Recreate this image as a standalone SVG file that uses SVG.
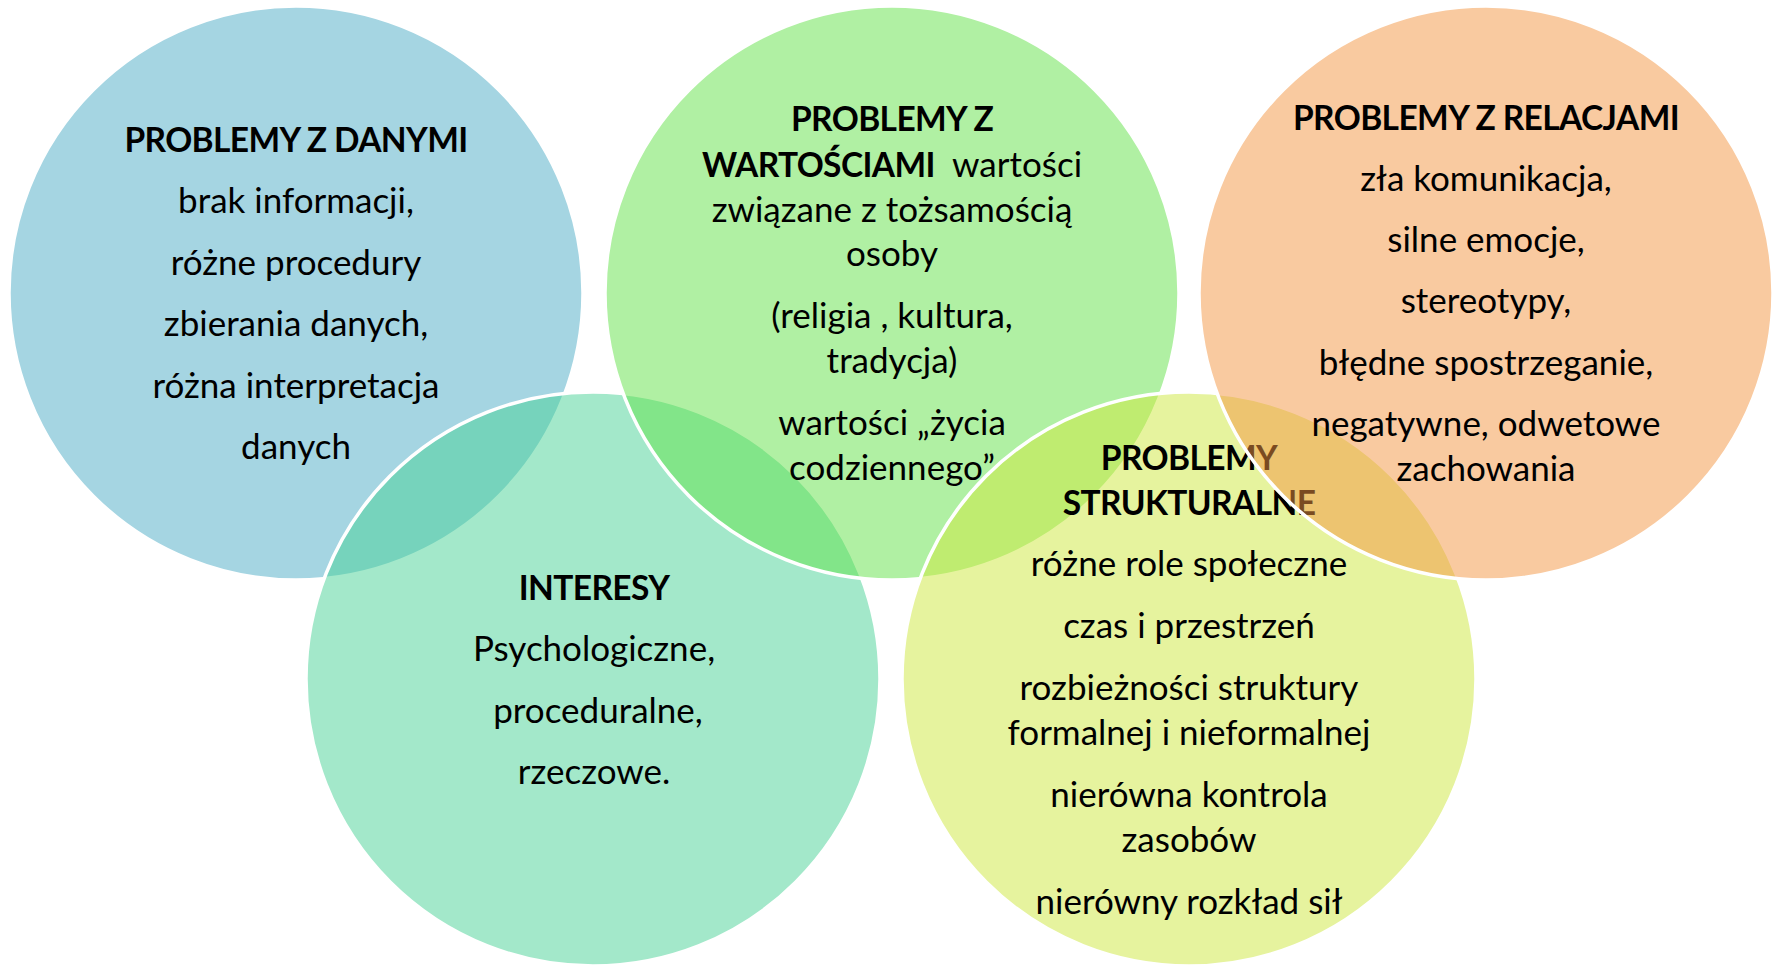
<svg xmlns="http://www.w3.org/2000/svg" width="1781" height="965" viewBox="0 0 1781 965">
<style>
.c { fill-opacity: 0.5; stroke: #ffffff; stroke-width: 3.5; }
text { font-family: Lato, "Liberation Sans", sans-serif; font-size: 35px; text-anchor: middle; fill: #000000; }
.b { font-weight: bold; font-size: 33.5px; letter-spacing: -0.6px; }
</style>
<rect x="0" y="0" width="1781" height="965" fill="#ffffff"/>
<g id="connectors"/>
<g id="node-dane">
  <circle class="c" cx="296" cy="293" r="287" fill="#4BABC5"/>
  <text x="296" y="151.5" class="b">PROBLEMY Z DANYMI</text>
  <text x="296" y="213">brak informacji,</text>
  <text x="296" y="274.5">różne procedury</text>
  <text x="296" y="336">zbierania danych,</text>
  <text x="296" y="397.5">różna interpretacja</text>
  <text x="296" y="459">danych</text>
</g>
<g id="node-interesy">
  <circle class="c" cx="593" cy="679" r="287" fill="#47D195"/>
  <text x="594" y="599.5" class="b">INTERESY</text>
  <text x="594" y="661">Psychologiczne,</text>
  <text x="598" y="722.5">proceduralne,</text>
  <text x="594" y="784">rzeczowe.</text>
</g>
<g id="node-wartosci">
  <circle class="c" cx="892" cy="293" r="287" fill="#61E147"/>
  <text x="892" y="131" class="b">PROBLEMY Z</text>
  <text x="892" y="176.5" xml:space="preserve"><tspan class="b">WARTOŚCIAMI</tspan>  wartości</text>
  <text x="892" y="221.5">związane z tożsamością</text>
  <text x="892" y="266">osoby</text>
  <text x="892" y="328">(religia , kultura,</text>
  <text x="892" y="373">tradycja)</text>
  <text x="892" y="435">wartości „życia</text>
  <text x="892" y="480">codziennego”</text>
</g>
<g id="node-strukturalne">
  <circle class="c" cx="1189" cy="679" r="287" fill="#CDE73D"/>
  <text x="1189" y="470" class="b">PROBLEMY</text>
  <text x="1189" y="514.5" class="b">STRUKTURALNE</text>
  <text x="1189" y="576">różne role społeczne</text>
  <text x="1189" y="638">czas i przestrzeń</text>
  <text x="1189" y="700">rozbieżności struktury</text>
  <text x="1189" y="745">formalnej i nieformalnej</text>
  <text x="1189" y="807">nierówna kontrola</text>
  <text x="1189" y="852">zasobów</text>
  <text x="1189" y="913.5">nierówny rozkład sił</text>
</g>
<g id="node-relacje">
  <circle class="c" cx="1486" cy="293" r="287" fill="#F39541"/>
  <text x="1486" y="130" class="b">PROBLEMY Z RELACJAMI</text>
  <text x="1486" y="191">zła komunikacja,</text>
  <text x="1486" y="252">silne emocje,</text>
  <text x="1486" y="313">stereotypy,</text>
  <text x="1486" y="375">błędne spostrzeganie,</text>
  <text x="1486" y="436">negatywne, odwetowe</text>
  <text x="1486" y="481">zachowania</text>
</g>
</svg>
